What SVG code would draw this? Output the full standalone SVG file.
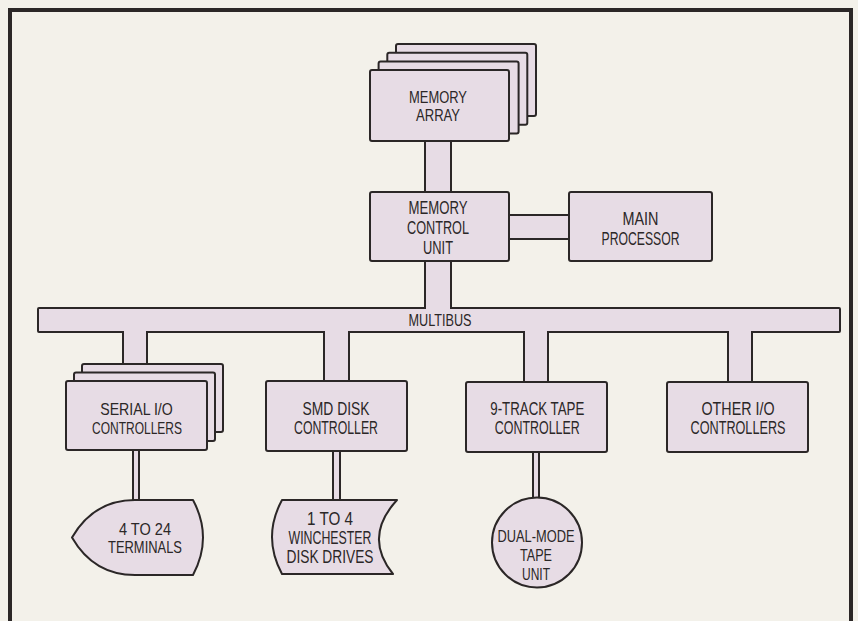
<svg xmlns="http://www.w3.org/2000/svg" width="858" height="621" viewBox="0 0 858 621">
<style>
.bg{fill:#f3f1ea}
.box{fill:#e7dce5;stroke:#2b2727;stroke-width:2;stroke-linejoin:round}
.fill{fill:#e7dce5}
.edge{stroke:#2b2727;stroke-width:2;fill:none}
.frame{stroke:#2b2727;stroke-width:4;fill:none}
.t{font-family:"Liberation Sans Narrow","Liberation Sans",Arial,sans-serif;font-size:18px;fill:#2b2727;text-anchor:middle}
.s{font-size:16px}
.m{font-size:16.5px}
</style>
<rect class="bg" x="0" y="0" width="858" height="621"/>
<path class="frame" d="M10,621 V10 H851 V621"/>

<g id="multibus">
  <rect class="box" x="38" y="308" width="802" height="24" rx="1"/>
</g>

<g id="connectors">
  <!-- memory array to memory control unit -->
  <rect class="fill" x="425" y="140" width="26" height="53"/>
  <line class="edge" x1="425" y1="141" x2="425" y2="192"/>
  <line class="edge" x1="451" y1="141" x2="451" y2="192"/>
  <!-- memory control unit to main processor -->
  <rect class="fill" x="508" y="215" width="62" height="24"/>
  <line class="edge" x1="509" y1="215" x2="569" y2="215"/>
  <line class="edge" x1="509" y1="239" x2="569" y2="239"/>
  <!-- memory control unit to multibus -->
  <rect class="fill" x="426" y="260" width="24" height="51"/>
  <line class="edge" x1="425" y1="261" x2="425" y2="308"/>
  <line class="edge" x1="451" y1="261" x2="451" y2="308"/>
  <!-- multibus to serial I/O -->
  <rect class="fill" x="124" y="329" width="22" height="36"/>
  <line class="edge" x1="123" y1="332" x2="123" y2="364"/>
  <line class="edge" x1="147" y1="332" x2="147" y2="364"/>
  <!-- multibus to SMD -->
  <rect class="fill" x="325" y="329" width="23" height="53"/>
  <line class="edge" x1="324" y1="332" x2="324" y2="381"/>
  <line class="edge" x1="349" y1="332" x2="349" y2="381"/>
  <!-- multibus to tape controller -->
  <rect class="fill" x="525" y="329" width="22" height="54"/>
  <line class="edge" x1="524" y1="332" x2="524" y2="382"/>
  <line class="edge" x1="548" y1="332" x2="548" y2="382"/>
  <!-- multibus to other I/O -->
  <rect class="fill" x="729" y="329" width="22" height="54"/>
  <line class="edge" x1="728" y1="332" x2="728" y2="382"/>
  <line class="edge" x1="752" y1="332" x2="752" y2="382"/>
  <!-- serial I/O to terminals -->
  <rect class="fill" x="133" y="449" width="6" height="52"/>
  <line class="edge" x1="133" y1="450" x2="133" y2="500"/>
  <line class="edge" x1="139" y1="450" x2="139" y2="500"/>
  <!-- SMD to Winchester -->
  <rect class="fill" x="333" y="450" width="7" height="51"/>
  <line class="edge" x1="333" y1="451" x2="333" y2="500"/>
  <line class="edge" x1="340" y1="451" x2="340" y2="500"/>
  <!-- tape controller to tape unit -->
  <rect class="fill" x="533" y="451" width="6" height="48"/>
  <line class="edge" x1="533" y1="452" x2="533" y2="498"/>
  <line class="edge" x1="539" y1="452" x2="539" y2="498"/>
</g>

<g id="multibus-label">
  <text class="t s" x="440" y="326" textLength="63" lengthAdjust="spacingAndGlyphs">MULTIBUS</text>
</g>

<g id="memory-array">
  <rect class="box" x="396" y="44" width="140" height="72" rx="2"/>
  <rect class="box" x="387.3" y="52.7" width="140" height="72" rx="2"/>
  <rect class="box" x="378.6" y="61.4" width="140" height="72" rx="2"/>
  <rect class="box" x="370" y="70" width="139" height="71" rx="2"/>
  <text class="t m" x="438" y="102.5" textLength="58" lengthAdjust="spacingAndGlyphs">MEMORY</text>
  <text class="t m" x="438" y="121" textLength="44" lengthAdjust="spacingAndGlyphs">ARRAY</text>
</g>

<g id="memory-control-unit">
  <rect class="box" x="370" y="192" width="139" height="69" rx="2"/>
  <text class="t" x="438" y="213.5" textLength="59" lengthAdjust="spacingAndGlyphs">MEMORY</text>
  <text class="t" x="438" y="234" textLength="62" lengthAdjust="spacingAndGlyphs">CONTROL</text>
  <text class="t" x="438" y="254" textLength="30" lengthAdjust="spacingAndGlyphs">UNIT</text>
</g>

<g id="main-processor">
  <rect class="box" x="569" y="192" width="143" height="69" rx="2"/>
  <text class="t" x="640.5" y="224.5" textLength="36" lengthAdjust="spacingAndGlyphs">MAIN</text>
  <text class="t" x="640.5" y="244.5" textLength="78" lengthAdjust="spacingAndGlyphs">PROCESSOR</text>
</g>

<g id="serial-io-controllers">
  <rect class="box" x="82" y="364" width="141" height="68" rx="2"/>
  <rect class="box" x="74" y="372.5" width="141" height="68.5" rx="2"/>
  <rect class="box" x="66" y="381" width="141" height="69" rx="2"/>
  <text class="t m" x="136.5" y="415" textLength="72.5" lengthAdjust="spacingAndGlyphs">SERIAL I/O</text>
  <text class="t m" x="137" y="433.5" textLength="90" lengthAdjust="spacingAndGlyphs">CONTROLLERS</text>
</g>

<g id="smd-disk-controller">
  <rect class="box" x="266" y="381" width="141" height="70" rx="2"/>
  <text class="t" x="336" y="415" textLength="67" lengthAdjust="spacingAndGlyphs">SMD DISK</text>
  <text class="t" x="336" y="434" textLength="84" lengthAdjust="spacingAndGlyphs">CONTROLLER</text>
</g>

<g id="tape-controller">
  <rect class="box" x="466" y="382" width="141" height="70" rx="2"/>
  <text class="t" x="537.3" y="415" textLength="94" lengthAdjust="spacingAndGlyphs">9-TRACK TAPE</text>
  <text class="t" x="537.3" y="434" textLength="85" lengthAdjust="spacingAndGlyphs">CONTROLLER</text>
</g>

<g id="other-io-controllers">
  <rect class="box" x="667" y="382" width="141" height="70" rx="2"/>
  <text class="t" x="738" y="415" textLength="73" lengthAdjust="spacingAndGlyphs">OTHER I/O</text>
  <text class="t" x="738" y="434" textLength="95" lengthAdjust="spacingAndGlyphs">CONTROLLERS</text>
</g>

<g id="terminals">
  <path class="box" d="M135,500 L193,500 Q213,537.5 193,575 L135,575 C105,575 85,560 72,537.5 C85,515 105,500 135,500 Z"/>
  <text class="t m" x="145" y="534.5" textLength="52" lengthAdjust="spacingAndGlyphs">4 TO 24</text>
  <text class="t m" x="145" y="553" textLength="74" lengthAdjust="spacingAndGlyphs">TERMINALS</text>
</g>

<g id="winchester-disk-drives">
  <path class="box" d="M282,500 L397,500 Q363,537 393,574 L282,574 Q262,537 282,500 Z"/>
  <text class="t" x="330" y="524.5" textLength="46" lengthAdjust="spacingAndGlyphs">1 TO 4</text>
  <text class="t" x="330" y="543.5" textLength="83" lengthAdjust="spacingAndGlyphs">WINCHESTER</text>
  <text class="t" x="330" y="562.5" textLength="87" lengthAdjust="spacingAndGlyphs">DISK DRIVES</text>
</g>

<g id="dual-mode-tape-unit">
  <circle class="box" cx="537" cy="542.5" r="45"/>
  <text class="t m" x="536" y="542" textLength="77" lengthAdjust="spacingAndGlyphs">DUAL-MODE</text>
  <text class="t m" x="536" y="561" textLength="32" lengthAdjust="spacingAndGlyphs">TAPE</text>
  <text class="t m" x="536" y="580" textLength="28" lengthAdjust="spacingAndGlyphs">UNIT</text>
</g>
</svg>
